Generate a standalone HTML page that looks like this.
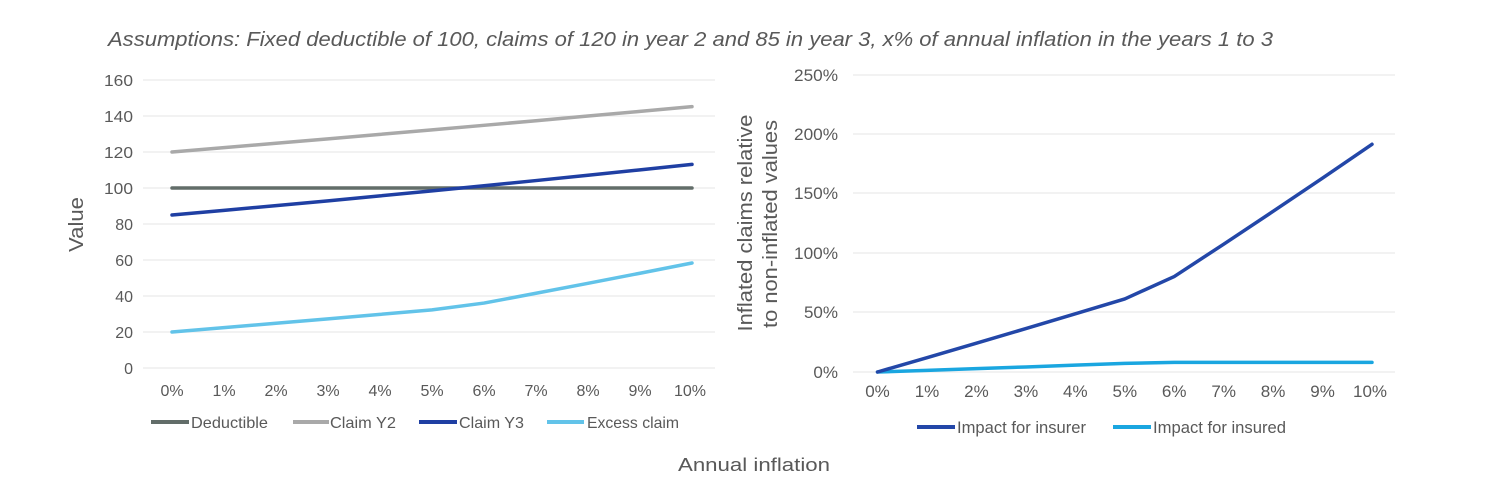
<!DOCTYPE html>
<html>
<head>
<meta charset="utf-8">
<style>
  html, body { margin: 0; padding: 0; background: #ffffff; }
  body { width: 1500px; height: 498px; overflow: hidden; }
  svg { display: block; }
  text { font-family: "Liberation Sans", "DejaVu Sans", sans-serif; fill: #595959; }
</style>
</head>
<body>
<svg width="1500" height="498" viewBox="0 0 1500 498" xmlns="http://www.w3.org/2000/svg">
  <rect x="0" y="0" width="1500" height="498" fill="#ffffff"/>

  <!-- Title -->
  <text x="108" y="46" font-size="20" font-style="italic" fill="#555555" textLength="1165" lengthAdjust="spacingAndGlyphs">Assumptions: Fixed deductible of 100, claims of 120 in year 2 and 85 in year 3, x% of annual inflation in the years 1 to 3</text>

  <!-- LEFT CHART gridlines -->
  <g stroke="#ebebeb" stroke-width="1.2">
    <line x1="143" y1="80" x2="715" y2="80"/>
    <line x1="143" y1="116" x2="715" y2="116"/>
    <line x1="143" y1="152" x2="715" y2="152"/>
    <line x1="143" y1="188" x2="715" y2="188"/>
    <line x1="143" y1="224" x2="715" y2="224"/>
    <line x1="143" y1="260" x2="715" y2="260"/>
    <line x1="143" y1="296" x2="715" y2="296"/>
    <line x1="143" y1="332" x2="715" y2="332"/>
    <line x1="143" y1="368" x2="715" y2="368"/>
  </g>

  <!-- Left y tick labels -->
  <g font-size="16" text-anchor="end">
    <text x="133" y="86" textLength="29" lengthAdjust="spacingAndGlyphs">160</text>
    <text x="133" y="122" textLength="29" lengthAdjust="spacingAndGlyphs">140</text>
    <text x="133" y="158" textLength="29" lengthAdjust="spacingAndGlyphs">120</text>
    <text x="133" y="194" textLength="29" lengthAdjust="spacingAndGlyphs">100</text>
    <text x="133" y="230">80</text>
    <text x="133" y="266">60</text>
    <text x="133" y="302">40</text>
    <text x="133" y="338">20</text>
    <text x="133" y="374">0</text>
  </g>

  <!-- Left x tick labels -->
  <g font-size="16" text-anchor="middle">
    <text x="172" y="396">0%</text>
    <text x="224" y="396">1%</text>
    <text x="276" y="396">2%</text>
    <text x="328" y="396">3%</text>
    <text x="380" y="396">4%</text>
    <text x="432" y="396">5%</text>
    <text x="484" y="396">6%</text>
    <text x="536" y="396">7%</text>
    <text x="588" y="396">8%</text>
    <text x="640" y="396">9%</text>
    <text x="690" y="396">10%</text>
  </g>

  <!-- Value axis title -->
  <text transform="translate(83,224.5) rotate(-90)" font-size="20" text-anchor="middle" fill="#505050" textLength="55" lengthAdjust="spacingAndGlyphs">Value</text>

  <!-- Left series -->
  <g fill="none" stroke-width="3.5" stroke-linejoin="round" stroke-linecap="round">
    <polyline stroke="#a9a9a9" points="172,152 224,147.66 276,143.27 328,138.84 380,134.38 432,129.86 484,125.31 536,120.70 588,116.05 640,111.37 692,106.64"/>
    <polyline stroke="#626d69" points="172,188 692,188"/>
    <polyline stroke="#1f3fa3" points="172,215 224,210.36 276,205.64 328,200.82 380,195.90 432,190.88 484,185.77 536,180.57 588,175.26 640,169.86 692,164.35"/>
    <polyline stroke="#62c3e9" points="172,332 224,327.66 276,323.27 328,318.84 380,314.38 432,309.86 484,303.07 536,293.26 588,283.31 640,273.23 692,262.99"/>
  </g>

  <!-- Left legend -->
  <g stroke-width="4">
    <line x1="151" y1="422" x2="189" y2="422" stroke="#626d69"/>
    <line x1="293" y1="422" x2="329" y2="422" stroke="#a9a9a9"/>
    <line x1="419" y1="422" x2="457" y2="422" stroke="#1f3fa3"/>
    <line x1="547" y1="422" x2="584" y2="422" stroke="#62c3e9"/>
  </g>
  <g font-size="16">
    <text x="191" y="428" textLength="77" lengthAdjust="spacingAndGlyphs">Deductible</text>
    <text x="330" y="428" textLength="66" lengthAdjust="spacingAndGlyphs">Claim Y2</text>
    <text x="459" y="428" textLength="65" lengthAdjust="spacingAndGlyphs">Claim Y3</text>
    <text x="587" y="428" textLength="92" lengthAdjust="spacingAndGlyphs">Excess claim</text>
  </g>

  <!-- Annual inflation -->
  <text x="678" y="471" font-size="18" fill="#505050" textLength="152" lengthAdjust="spacingAndGlyphs">Annual inflation</text>

  <!-- RIGHT CHART gridlines -->
  <g stroke="#ebebeb" stroke-width="1.2">
    <line x1="853" y1="75" x2="1395" y2="75"/>
    <line x1="853" y1="134" x2="1395" y2="134"/>
    <line x1="853" y1="193" x2="1395" y2="193"/>
    <line x1="853" y1="253" x2="1395" y2="253"/>
    <line x1="853" y1="312" x2="1395" y2="312"/>
    <line x1="853" y1="372" x2="1395" y2="372"/>
  </g>

  <!-- Right y tick labels -->
  <g font-size="17" text-anchor="end">
    <text x="838" y="81" textLength="44" lengthAdjust="spacingAndGlyphs">250%</text>
    <text x="838" y="140" textLength="44" lengthAdjust="spacingAndGlyphs">200%</text>
    <text x="838" y="199" textLength="44" lengthAdjust="spacingAndGlyphs">150%</text>
    <text x="838" y="259" textLength="44" lengthAdjust="spacingAndGlyphs">100%</text>
    <text x="838" y="318">50%</text>
    <text x="838" y="378">0%</text>
  </g>

  <!-- Right x tick labels -->
  <g font-size="17" text-anchor="middle">
    <text x="877.5" y="397">0%</text>
    <text x="927" y="397">1%</text>
    <text x="976.4" y="397">2%</text>
    <text x="1025.9" y="397">3%</text>
    <text x="1075.3" y="397">4%</text>
    <text x="1124.8" y="397">5%</text>
    <text x="1174.2" y="397">6%</text>
    <text x="1223.7" y="397">7%</text>
    <text x="1273.1" y="397">8%</text>
    <text x="1322.6" y="397">9%</text>
    <text x="1370" y="397">10%</text>
  </g>

  <!-- Right axis title -->
  <text transform="translate(752,223) rotate(-90)" font-size="20" text-anchor="middle" fill="#505050" textLength="217" lengthAdjust="spacingAndGlyphs">Inflated claims relative</text>
  <text transform="translate(777,224) rotate(-90)" font-size="20" text-anchor="middle" fill="#505050" textLength="208" lengthAdjust="spacingAndGlyphs">to non-inflated values</text>

  <!-- Right series -->
  <g fill="none" stroke-width="3.5" stroke-linejoin="round" stroke-linecap="round">
    <polyline stroke="#1aa6e0" points="877.5,372 927,370.35 976.4,368.66 1025.9,366.94 1075.3,365.18 1124.8,363.40 1174.2,362.37 1223.7,362.37 1273.1,362.37 1322.6,362.37 1372,362.37"/>
    <polyline stroke="#2347a8" points="877.5,372 927,357.68 976.4,343.19 1025.9,328.58 1075.3,313.85 1124.8,298.94 1174.2,276.54 1223.7,244.17 1273.1,211.33 1322.6,178.06 1372,144.26"/>
  </g>

  <!-- Right legend -->
  <g stroke-width="4">
    <line x1="917" y1="427" x2="955" y2="427" stroke="#2347a8"/>
    <line x1="1113" y1="427" x2="1151" y2="427" stroke="#1aa6e0"/>
  </g>
  <g font-size="17">
    <text x="957" y="433" textLength="129" lengthAdjust="spacingAndGlyphs">Impact for insurer</text>
    <text x="1153" y="433" textLength="133" lengthAdjust="spacingAndGlyphs">Impact for insured</text>
  </g>
</svg>
</body>
</html>
